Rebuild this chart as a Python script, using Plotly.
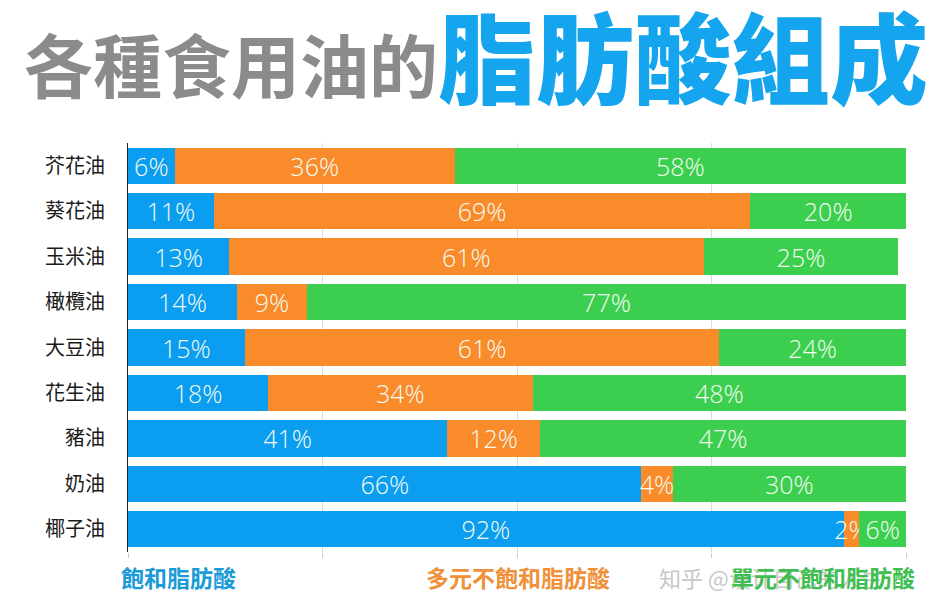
import plotly.graph_objects as go

oils = ["芥花油", "葵花油", "玉米油", "橄欖油", "大豆油", "花生油", "豬油", "奶油", "椰子油"]
saturated = [6, 11, 13, 14, 15, 18, 41, 66, 92]
poly = [36, 69, 61, 9, 61, 34, 12, 4, 2]
mono = [58, 20, 25, 77, 24, 48, 47, 30, 6]

series_names = ["飽和脂肪酸", "多元不飽和脂肪酸", "單元不飽和脂肪酸"]
colors = ["#0b9df0", "#f98b2b", "#3ccf4f"]
legend_colors = ["#1b9ad8", "#f0913a", "#3fbf52"]

W, H = 935, 609
L, R, T, B = 128, 29, 143, 57


def px(x):
    return (x - L) / (W - L - R)


def py(y):
    return (H - B - y) / (H - T - B)


fig = go.Figure()
for name, vals, c in zip(series_names, [saturated, poly, mono], colors):
    fig.add_trace(go.Bar(
        y=oils, x=vals, name=name, orientation="h",
        marker=dict(color=c, line=dict(width=0)),
        texttemplate="%{x}%", textposition="inside", textangle=0,
        insidetextanchor="middle", constraintext="none",
        textfont=dict(size=25, color="#f4fbf2", family="Open Sans", weight=300),
    ))

fig.update_layout(
    width=W, height=H,
    margin=dict(l=L, r=R, t=T, b=B),
    barmode="stack", bargap=0.2,
    plot_bgcolor="white", paper_bgcolor="white",
    showlegend=False,
    uniformtext=dict(minsize=25, mode="show"),
)
fig.update_xaxes(range=[0, 100], dtick=25, showgrid=True, gridcolor="#dcdcdc",
                 showticklabels=False, ticks="outside", ticklen=5, tickcolor="#c8c8c8",
                 zeroline=False, fixedrange=True, automargin=False)
fig.update_yaxes(autorange="reversed", showline=True, linecolor="#222", linewidth=1,
                 ticks="", ticklabelstandoff=18, automargin=False,
                 tickfont=dict(size=20, color="#1a1a1a", family="Noto Sans CJK TC"))

# title
fig.add_annotation(text="各種食用油的", xref="paper", yref="paper",
                   x=px(22), y=py(63), xanchor="left", yanchor="middle", showarrow=False,
                   font=dict(size=69, color="#8b8b8b", family="Noto Sans CJK TC", weight="bold"))
fig.add_annotation(text="脂肪酸組成", xref="paper", yref="paper",
                   x=px(436), y=py(53), xanchor="left", yanchor="middle", showarrow=False,
                   font=dict(size=98, color="#15a5ee", family="Noto Sans CJK TC", weight=900))

# legend labels
fig.add_annotation(text="知乎 @设计自己的人生", xref="paper", yref="paper",
                   x=px(657), y=py(577), xanchor="left", yanchor="middle", showarrow=False,
                   opacity=0.55,
                   font=dict(size=22, color="#9a9a9a", family="Noto Sans CJK SC"))
for name, c, x0 in zip(series_names, legend_colors, [119, 424, 729]):
    fig.add_annotation(text=name, xref="paper", yref="paper",
                       x=px(x0), y=py(577), xanchor="left", yanchor="middle", showarrow=False,
                       font=dict(size=23, color=c, family="Noto Sans CJK TC", weight="bold"))

fig.write_html("out.html", config={"displayModeBar": False},
               post_script="document.body.style.margin='0';")
